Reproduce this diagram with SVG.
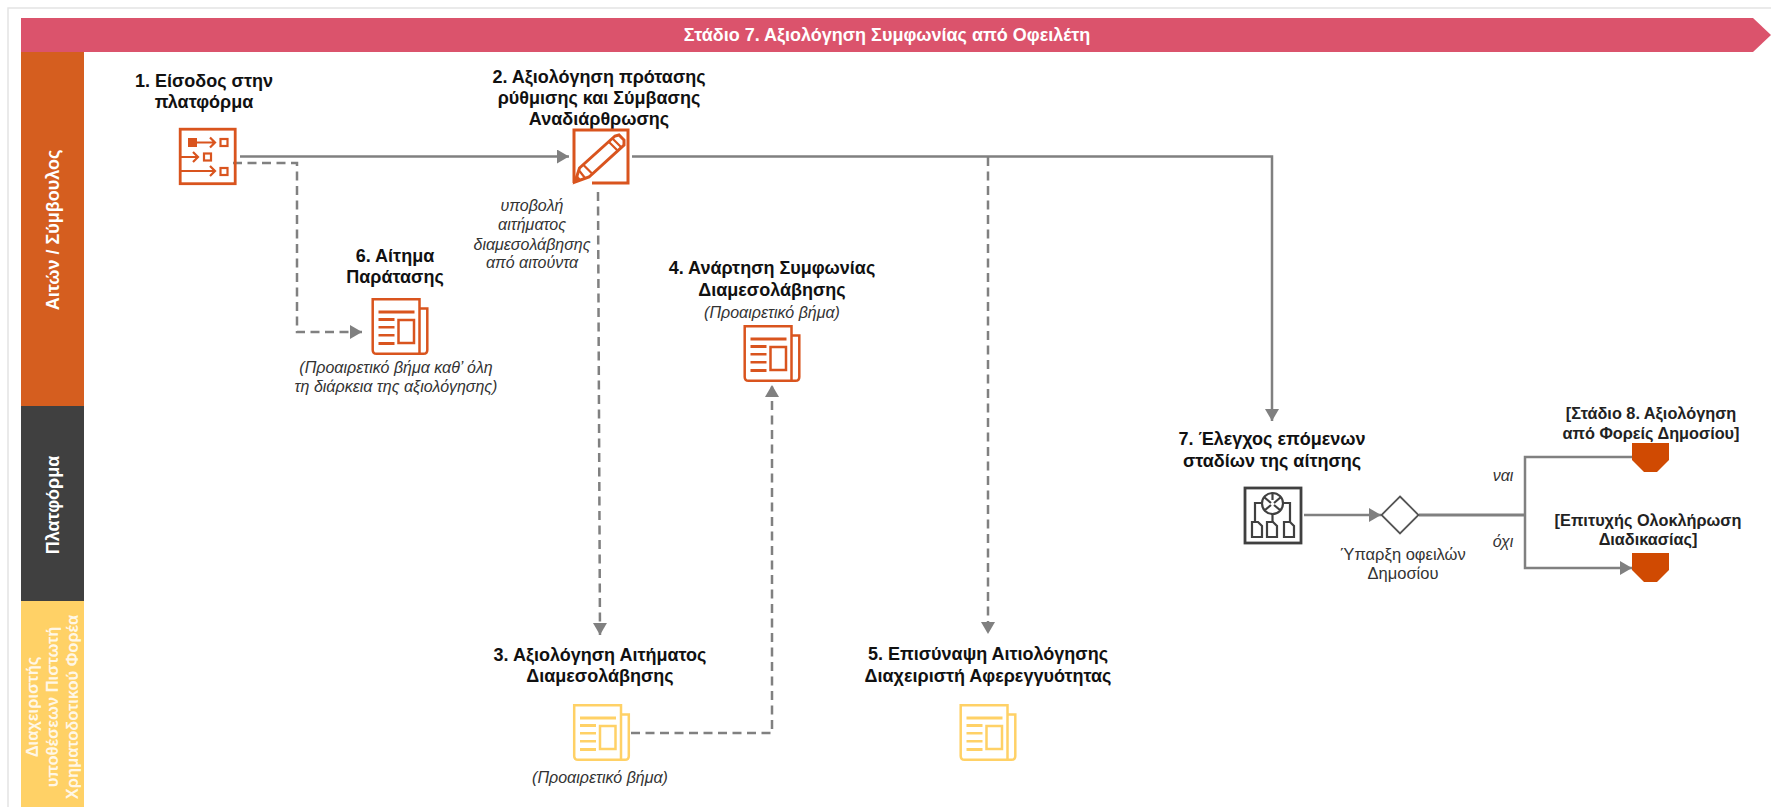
<svg xmlns="http://www.w3.org/2000/svg" width="1771" height="807" viewBox="0 0 1771 807">
<style>
text{font-family:"Liberation Sans",Arial,sans-serif}
.t{font-size:18px;font-weight:700;fill:#111;text-anchor:middle}
.e{font-size:16.300px;font-weight:700;fill:#222;text-anchor:middle}
.i{font-size:16px;font-style:italic;fill:#333;text-anchor:middle}
.r{font-size:16.500px;fill:#333;text-anchor:middle}
.band{font-size:18px;font-weight:700;fill:#fff;text-anchor:middle}
.sm{font-size:16.500px;font-weight:700;fill:#fff;fill-opacity:.85;text-anchor:middle}
.ln{fill:none;stroke:#808080;stroke-width:2.500}
.ds{fill:none;stroke:#808080;stroke-width:2.500;stroke-dasharray:9 5.500}
.o{color:#d9541e}
.y{color:#ffd166}
</style>
<defs>
<marker id="a" markerUnits="userSpaceOnUse" markerWidth="12" markerHeight="14" refX="12" refY="7" orient="auto"><path d="M0 0L12 7L0 14Z" fill="#808080"/></marker>
<symbol id="doc" viewBox="0 0 57 57" width="57" height="57" overflow="visible">
<g fill="none" stroke="currentColor" stroke-width="2.500">
<path d="M1.200 1.200H48V55.800H5Q1.200 55.800 1.200 52Z"/>
<path d="M48 10.500H55.800V52Q55.800 55.800 52 55.800H48"/>
<rect x="27" y="22" width="15.500" height="23"/>
</g>
<g fill="currentColor"><rect x="7" y="12.500" width="36" height="3"/><rect x="7" y="20" width="16" height="3"/><rect x="7" y="28" width="16" height="2.500"/><rect x="7" y="36" width="16" height="2.500"/><rect x="7" y="44" width="16" height="3"/></g>
</symbol>
</defs>
<path d="M8 807V8H1771" fill="none" stroke="#e4e4e4" stroke-width="1.500"/>
<g id="banner">
<polygon points="21,18 1753,18 1771,35 1753,52 21,52" fill="#db536c"/>
<text class="band" x="887" y="41">Στάδιο 7. Αξιολόγηση Συμφωνίας από Οφειλέτη</text>
</g>
<g id="lanes">
<rect x="21" y="52" width="63" height="354" fill="#d55e1f"/>
<rect x="21" y="406" width="63" height="195" fill="#404040"/>
<rect x="21" y="601" width="63" height="206" fill="#ffd166"/>
<text class="band" transform="translate(59,230) rotate(-90)">Αιτών / Σύμβουλος</text>
<text class="band" transform="translate(59,505) rotate(-90)">Πλατφόρμα</text>
<text class="sm" transform="translate(38,707) rotate(-90)">Διαχειριστής</text>
<text class="sm" transform="translate(58,707) rotate(-90)">υποθέσεων Πιστωτή</text>
<text class="sm" transform="translate(78,707) rotate(-90)">Χρηματοδοτικού Φορέα</text>
</g>
<g id="connectors">
<path class="ln" marker-end="url(#a)" d="M240 156.500H569"/>
<path class="ln" marker-end="url(#a)" d="M632 156.500H1272V421"/>
<path class="ds" marker-end="url(#a)" d="M233 163H297V332H362"/>
<path class="ds" marker-end="url(#a)" d="M598 192L600 635"/>
<path class="ds" marker-end="url(#a)" d="M988 157V634"/>
<path class="ds" marker-end="url(#a)" d="M631 733H772V385"/>
<path class="ln" marker-end="url(#a)" d="M1304 515H1381"/>
<path class="ln" style="stroke-width:3" d="M1419 515H1525"/>
<path class="ln" marker-end="url(#a)" d="M1632 457H1525V568H1632"/>
</g>
<g id="n1">
<text class="t"><tspan x="204" y="87">1. Είσοδος στην</tspan><tspan x="204" y="108">πλατφόρμα</tspan></text>
<g transform="translate(179,128)" fill="none" stroke="#d9541e" stroke-width="2.200">
<rect x="1.200" y="1.200" width="55" height="54.500" stroke-width="2.800"/>
<rect x="9" y="10" width="9" height="9" fill="#d9541e" stroke="none"/>
<path d="M18 14.500H36M31 9.500L36 14.500L31 19.500M1 29H19M14 24L19 29L14 34M1 43H36M31 38L36 43L31 48"/>
<rect x="41.500" y="11" width="7" height="7"/><rect x="25" y="25.500" width="7" height="7"/><rect x="41.500" y="40" width="7" height="7"/>
</g>
</g>
<g id="n2">
<text class="t"><tspan x="599" y="83">2. Αξιολόγηση πρότασης</tspan><tspan x="599" y="104">ρύθμισης και Σύμβασης</tspan><tspan x="599" y="125">Αναδιάρθρωσης</tspan></text>
<g transform="translate(573,129)" fill="none" stroke="#d9541e" stroke-width="3">
<path d="M19 54H55V1H1V54"/>
<path d="M2 53L6.500 39L42 7L46 6L51 11L51 16L16 48Z" fill="#fff"/>
<path d="M10.500 36L19.500 45M36 13L45 22M40 10L49 19M6.500 42L12 49" stroke-width="2.200"/>
<path d="M2 53L3.500 46L8 51Z" fill="#d9541e" stroke-width="1"/>
</g>
<text class="i"><tspan x="532" y="211">υποβολή</tspan><tspan x="532" y="230">αιτήματος</tspan><tspan x="532" y="250">διαμεσολάβησης</tspan><tspan x="532" y="268">από αιτούντα</tspan></text>
</g>
<g id="n3" class="y">
<text class="t"><tspan x="600" y="661">3. Αξιολόγηση Αιτήματος</tspan><tspan x="600" y="682">Διαμεσολάβησης</tspan></text>
<use href="#doc" x="573" y="704"/>
<text class="i" x="600" y="783">(Προαιρετικό βήμα)</text>
</g>
<g id="n4" class="o">
<text class="t"><tspan x="772" y="274">4. Ανάρτηση Συμφωνίας</tspan><tspan x="772" y="296">Διαμεσολάβησης</tspan></text>
<text class="i" x="772" y="318">(Προαιρετικό βήμα)</text>
<use href="#doc" x="743.500" y="325"/>
</g>
<g id="n5" class="y">
<text class="t"><tspan x="988" y="660">5. Επισύναψη Αιτιολόγησης</tspan><tspan x="988" y="682">Διαχειριστή Αφερεγγυότητας</tspan></text>
<use href="#doc" x="959.500" y="704"/>
</g>
<g id="n6" class="o">
<text class="t"><tspan x="395" y="262">6. Αίτημα</tspan><tspan x="395" y="283">Παράτασης</tspan></text>
<use href="#doc" x="371.500" y="298"/>
<text class="i"><tspan x="396" y="373">(Προαιρετικό βήμα καθ’ όλη</tspan><tspan x="396" y="392">τη διάρκεια της αξιολόγησης)</tspan></text>
</g>
<g id="n7">
<text class="t"><tspan x="1272" y="445">7. Έλεγχος επόμενων</tspan><tspan x="1272" y="467">σταδίων της αίτησης</tspan></text>
<g fill="none" stroke="#404040" stroke-width="2.200">
<rect x="1245" y="488" width="56" height="55" stroke-width="2.800"/>
<circle cx="1272.500" cy="503.500" r="10.500"/>
<path d="M1262 503H1255V522M1283 503H1290V522M1272.500 514V522M1264 497L1271 503M1281 497L1274 503M1265 510L1271 505M1280 510L1274 505M1272.500 493V500"/>
<path d="M1252 537V522H1258L1262 526V537ZM1267 537V522H1273L1277 526V537ZM1284 537V522H1290L1294 526V537Z"/>
</g>
</g>
<g id="decision">
<polygon points="1400,496.500 1418.500,515 1400,533.500 1381.500,515" fill="#fff" stroke="#555" stroke-width="1.800"/>
<text class="r"><tspan x="1403" y="560">Ύπαρξη οφειλών</tspan><tspan x="1403" y="579">Δημοσίου</tspan></text>
<text class="i" x="1503" y="481">ναι</text>
<text class="i" x="1503" y="547">όχι</text>
</g>
<g id="end8">
<text class="e"><tspan x="1651" y="419">[Στάδιο 8. Αξιολόγηση</tspan><tspan x="1651" y="439">από Φορείς Δημοσίου]</tspan></text>
<polygon points="1632,443 1669,443 1669,460 1657,472 1644,472 1632,460" fill="#d04a02"/>
</g>
<g id="end-ok">
<text class="e"><tspan x="1648" y="526">[Επιτυχής Ολοκλήρωση</tspan><tspan x="1648" y="545">Διαδικασίας]</tspan></text>
<polygon points="1632,553 1669,553 1669,570 1657,582 1644,582 1632,570" fill="#d04a02"/>
</g>
</svg>
